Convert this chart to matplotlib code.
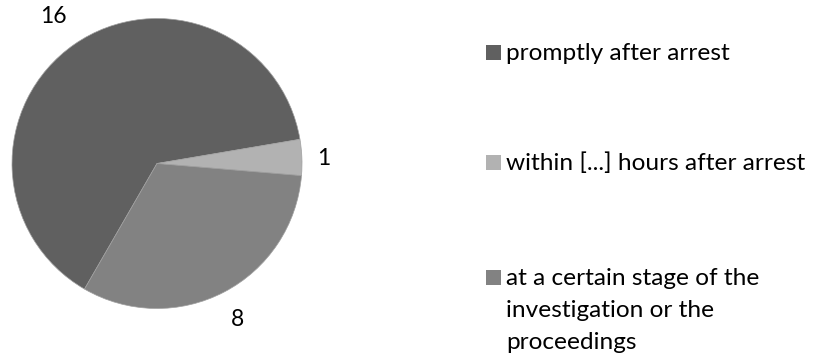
import matplotlib
matplotlib.use("Agg")
import matplotlib.pyplot as plt
from matplotlib.patches import Rectangle

categories = ["promptly after arrest", "within [...] hours after arrest",
              "at a certain stage of the\ninvestigation or the\nproceedings"]
values = [16, 1, 8]
colors = ["#606060", "#b2b2b2", "#828282"]

plt.rcParams['font.family'] = ['Lato', 'DejaVu Sans']
FS_LEG = 17.6
FS_NUM = 16.5

fig = plt.figure(figsize=(8.18, 3.6), dpi=100)
ax = fig.add_axes([12/818, (360-308.5)/360, 290/818, 290/360])
total = sum(values)
wedges, texts, autotexts = ax.pie(
    values, colors=colors, startangle=240, counterclock=False,
    autopct=lambda p: f"{round(p*total/100)}", pctdistance=1.0,
    wedgeprops=dict(linewidth=0.5, edgecolor="#a0a0a0"),
    textprops=dict(fontsize=FS_NUM, color="black"))
label_dist = [1.25, 1.15, 1.20]
for t, d in zip(autotexts, label_dist):
    x, y = t.get_position()
    t.set_position((x * d, y * d))
    t.set_va("center_baseline")
ax.set_xlim(-1, 1)
ax.set_ylim(-1, 1)

baselines = [60, 170, 285]
sq_tops = [45, 155, 270]
line_pitch = 32
for yb, yt, lab, col in zip(baselines, sq_tops, categories, colors):
    fig.patches.append(Rectangle((486/818, (360-yt-15)/360), 15/818, 15/360,
                                 transform=fig.transFigure, facecolor=col,
                                 edgecolor="none"))
    for i, line in enumerate(lab.split("\n")):
        fig.text(506/818, (360-yb-i*line_pitch)/360, line, fontsize=FS_LEG,
                 va="baseline", ha="left")

fig.savefig("out.png", dpi=100)
